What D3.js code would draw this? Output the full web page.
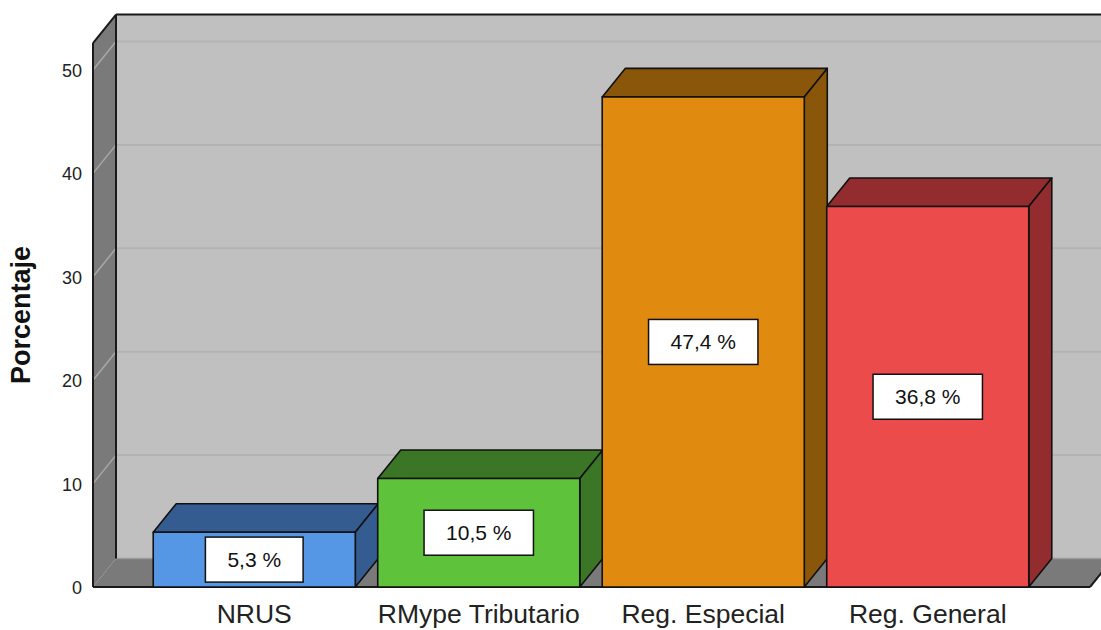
<!DOCTYPE html>
<html>
<head>
<meta charset="utf-8">
<script src="https://cdn.jsdelivr.net/npm/d3@7"></script>
<style>
  html, body { margin: 0; padding: 0; background: #fff; }
  svg { display: block; font-family: "Liberation Sans", Arial, sans-serif; }
</style>
</head>
<body>
<svg id="chart" width="1101" height="630"></svg>
<script>
// Régimen tributario: porcentaje de empresas
const categories = ["NRUS", "RMype Tributario", "Reg. Especial", "Reg. General"];
const values = [5.3, 10.5, 47.4, 36.8];
const valueLabels = ["5,3 %", "10,5 %", "47,4 %", "36,8 %"];
const yTicks = [0, 10, 20, 30, 40, 50];
const axisMax = 52.6;

const frontColors = ["#5597e5", "#5ec23a", "#e08a10", "#ec4b4b"];
const sideColors = ["#345c90", "#3a7625", "#8a560a", "#932c2f"];

const W = 1101, H = 630;
const DX = 23, DY = -28.5;          // oblique depth offset
const xLeft = 93, xRight = 1090;    // front edge of the floor

const svg = d3.select("#chart");

const y = d3.scaleLinear().domain([0, 50]).range([587, 70]);
const x = d3.scaleBand().domain(categories)
  .range([142, 1040]).paddingInner(0.1).paddingOuter(0.05);

const y0 = y(0), yTop = y(axisMax);
const poly = pts => pts.map(p => p.join(",")).join(" ");

// back wall
svg.append("rect")
  .attr("x", xLeft + DX).attr("y", yTop + DY)
  .attr("width", W - xLeft - DX + 20).attr("height", y0 - yTop)
  .attr("fill", "#c0c0c0");

// left wall
svg.append("polygon")
  .attr("points", poly([[xLeft, yTop], [xLeft + DX, yTop + DY], [xLeft + DX, y0 + DY], [xLeft, y0]]))
  .attr("fill", "#7a7a7a");

// floor
svg.append("polygon")
  .attr("points", poly([[xLeft, y0], [xLeft + DX, y0 + DY], [xRight + DX, y0 + DY], [xRight, y0]]))
  .attr("fill", "#7a7a7a");

// gridlines on back wall and left wall
const grid = svg.append("g");
yTicks.filter(t => t > 0).forEach(t => {
  grid.append("line")
    .attr("x1", xLeft + DX).attr("x2", W + 20)
    .attr("y1", y(t) + DY).attr("y2", y(t) + DY)
    .attr("stroke", "#b3b3b3").attr("stroke-width", 2);
  grid.append("line")
    .attr("x1", xLeft).attr("y1", y(t))
    .attr("x2", xLeft + DX).attr("y2", y(t) + DY)
    .attr("stroke", "#a8a8a8").attr("stroke-width", 1.5);
});

// floor back edge
svg.append("line")
  .attr("x1", xLeft + DX).attr("x2", xRight + DX)
  .attr("y1", y0 + DY).attr("y2", y0 + DY)
  .attr("stroke", "#9a9a9a").attr("stroke-width", 1.5);

// frame edges
const frame = svg.append("g").attr("fill", "none").attr("stroke", "#1a1a1a").attr("stroke-width", 2);
frame.append("line").attr("x1", xLeft + DX).attr("y1", yTop + DY).attr("x2", W + 20).attr("y2", yTop + DY);
frame.append("line").attr("x1", xLeft).attr("y1", yTop).attr("x2", xLeft + DX).attr("y2", yTop + DY);
frame.append("line").attr("x1", xLeft + DX).attr("y1", yTop + DY).attr("x2", xLeft + DX).attr("y2", y0 + DY);
frame.append("line").attr("x1", xLeft).attr("y1", yTop).attr("x2", xLeft).attr("y2", y0);
frame.append("line").attr("x1", xLeft).attr("y1", y0).attr("x2", xRight).attr("y2", y0);
frame.append("line").attr("x1", xRight).attr("y1", y0).attr("x2", xRight + DX).attr("y2", y0 + DY);

// 3D bars
const bars = svg.append("g").attr("stroke", "#111").attr("stroke-width", 1.6).attr("stroke-linejoin", "round");
categories.forEach((c, i) => {
  const x0 = x(c), x1 = x0 + x.bandwidth();
  const yt = y(values[i]);
  const g = bars.append("g");
  g.append("polygon")
    .attr("points", poly([[x0, yt], [x0 + DX, yt + DY], [x1 + DX, yt + DY], [x1, yt]]))
    .attr("fill", sideColors[i]);
  g.append("polygon")
    .attr("points", poly([[x1, yt], [x1 + DX, yt + DY], [x1 + DX, y0 + DY], [x1, y0]]))
    .attr("fill", sideColors[i]);
  g.append("rect")
    .attr("x", x0).attr("y", yt)
    .attr("width", x1 - x0).attr("height", y0 - yt)
    .attr("fill", frontColors[i]);
});

// value labels in white boxes
const labels = svg.append("g");
categories.forEach((c, i) => {
  const cx = x(c) + x.bandwidth() / 2;
  const cy = (y(values[i]) + y0) / 2;
  const g = labels.append("g");
  const t = g.append("text")
    .attr("x", cx).attr("y", cy)
    .attr("text-anchor", "middle").attr("dominant-baseline", "central")
    .attr("font-size", 21).attr("fill", "#111")
    .text(valueLabels[i]);
  const w = t.node().getComputedTextLength() + 44, h = 45;
  g.insert("rect", "text")
    .attr("x", cx - w / 2).attr("y", Math.min(cy - h / 2, y0 - h - 3))
    .attr("width", w).attr("height", h)
    .attr("fill", "#fff").attr("stroke", "#111").attr("stroke-width", 1.5);
  if (cy - h / 2 > y0 - h - 3) t.attr("y", y0 - h / 2 - 3);
});

// y tick labels
svg.append("g").selectAll("text").data(yTicks).join("text")
  .attr("x", 82).attr("y", d => y(d) + 1)
  .attr("text-anchor", "end").attr("dominant-baseline", "central")
  .attr("font-size", 18).attr("fill", "#222")
  .text(d => d);

// category labels
svg.append("g").selectAll("text").data(categories).join("text")
  .attr("x", d => x(d) + x.bandwidth() / 2).attr("y", 623)
  .attr("text-anchor", "middle")
  .attr("font-size", 26.5).attr("fill", "#222")
  .text(d => d);

// y axis title
svg.append("text")
  .attr("transform", "translate(30,315) rotate(-90)")
  .attr("text-anchor", "middle")
  .attr("font-size", 27).attr("font-weight", "bold").attr("fill", "#111")
  .text("Porcentaje");
</script>
</body>
</html>
